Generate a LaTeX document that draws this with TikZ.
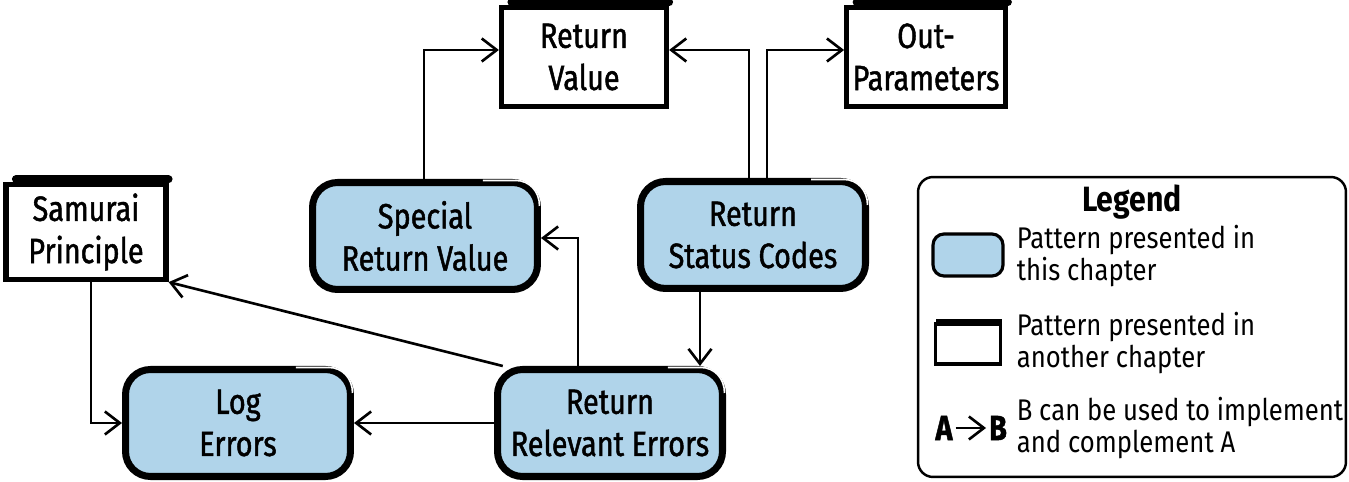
\documentclass[tikz,border=0pt]{standalone}
\usepackage{fontspec}
\setmainfont{Fira Sans}
\newfontfamily\handfont[FakeStretch=0.82,FakeBold=1.3]{Fira Sans}
\newfontfamily\legendfont[FakeStretch=0.86]{Fira Sans}
\usetikzlibrary{arrows.meta,calc}
\definecolor{patternblue}{RGB}{176,212,234}
\begin{document}
\begin{tikzpicture}[x=0.02cm,y=-0.02cm]
\useasboundingbox (0,0) rectangle (1349,482);
\begin{scope}[->,line width=1.5pt,
              >={Straight Barb[length=3mm,width=4.6mm,line width=1.5pt]},
              block1/.style={rectangle,draw,line width=4pt,fill=patternblue,rounded corners=0.5cm,
                             minimum width=4.5cm,minimum height=2.14cm,align=center,
                             font=\handfont\fontsize{20}{24}\selectfont},
              block2/.style={rectangle,draw,line width=3pt,fill=white,minimum height=1.98cm,align=center,
                             font=\handfont\fontsize{20}{24}\selectfont},
              legtext/.style={anchor=west,inner sep=2pt,align=left,font=\legendfont\fontsize{17}{18.5}\selectfont}]
    \node [block2,minimum width=3.3cm] (rv) at (584,57) {Return \\ Value};
    \node [block2,minimum width=3.1cm] (op) at (926,57) {Out- \\ Parameters};
    \node [block2,minimum width=3.2cm,minimum height=1.9cm] (sp) at (86,232) {Samurai \\ Principle};
    \node [block1] (srv) at (425,236) {Special \\ Return Value};
    \node [block1] (rsc) at (753,235) {Return \\ Status Codes};
    \node [block1] (log) at (238,423) {Log \\ Errors};
    \node [block1] (rre) at (610,423) {Return \\ Relevant Errors};
    % heavy top edge of the boxes
    \foreach \n in {rv,op,sp}
      \draw [-,line width=4.5pt,line cap=round] ([xshift=0.25cm,yshift=0.05cm]\n.north west) -- ([yshift=0.05cm]\n.north east);
    % glint on the blobs
    \foreach \n in {srv,rsc,log,rre}
      \draw [-,white,line width=0.9pt] ($(\n.north east)+(-58,1.5)$) -- ($(\n.north east)+(-25,1.5)$)
        .. controls ($(\n.north east)+(-12,1.5)$) and ($(\n.north east)+(-1.5,12)$) .. ($(\n.north east)+(-1.5,27)$);
    \draw ($(srv.north)+(-1,0)$) |- ($(rv.west)+(0,-7)$);
    \draw ($(rsc.north)+(-4,0)$) |- ($(rv.east)+(0,-7)$);
    \draw ($(rsc.north)+(14,0)$) |- ($(op.west)+(0,-7)$);
    \draw ($(rsc.south)+(-53,0)$) coordinate (c1) -- (c1 |- rre.north);
    \draw ($(rre.north)+(-32,0)$) |- ($(srv.east)+(0,2)$);
    \draw (rre.152) -- (sp.south east);
    \draw (rre.west) -- (log.east);
    \draw ($(sp.south)+(5,0)$) |- (log.west);
    % legend
    \node [draw,-,line width=1.4pt,rounded corners=0.3cm,minimum width=8.56cm,minimum height=6cm] (legend) at (1132,327) {};
    \node [font=\legendfont\bfseries\fontsize{20}{22}\selectfont] (title) at (1132,202) {Legend};
    \node [block1,line width=1.8pt,rounded corners=0.22cm,minimum width=1.4cm,minimum height=0.84cm] (key1) at (968,255) {};
    \node [legtext] (txt1) at (1012,256) {Pattern presented in \\ this chapter};
    \node [block2,line width=1.8pt,minimum width=1.3cm,minimum height=0.8cm] (key2) at (968,344) {};
    \draw [-,line width=2.6pt] ([xshift=0.05cm,yshift=0.02cm]key2.north west) -- ([yshift=0.02cm]key2.north east);
    \node [legtext] (txt2) at (1012,343) {Pattern presented in \\ another chapter};
    \node [inner sep=1pt,font=\handfont\bfseries\fontsize{20}{22}\selectfont] (a) at (944,428) {A};
    \node [inner sep=1pt,font=\handfont\bfseries\fontsize{20}{22}\selectfont] (b) at (998,428) {B};
    \path (a) edge (b);
    \node [legtext] (txt3) at (1012,428) {B can be used to implement \\ and complement A};
\end{scope}
\end{tikzpicture}
\end{document}
